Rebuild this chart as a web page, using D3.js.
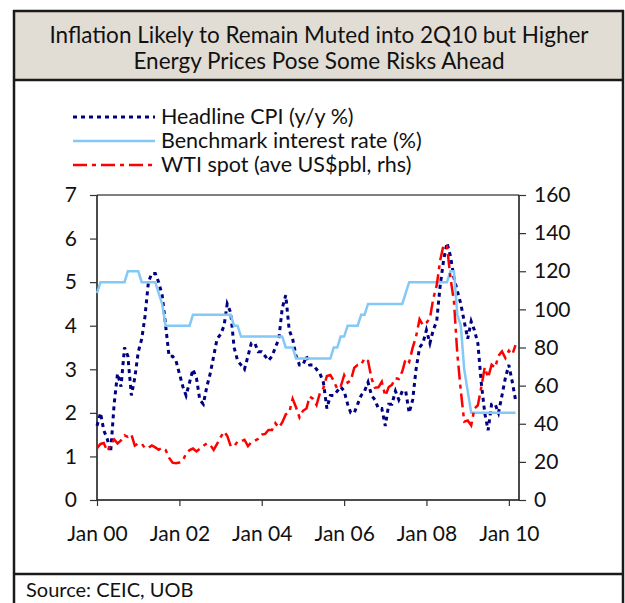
<!DOCTYPE html>
<html>
<head>
<meta charset="utf-8">
<script src="https://cdn.jsdelivr.net/npm/d3@7"></script>
<style>
  body { margin: 0; background: #fff; }
  svg { display: block; font-family: Lato, "Open Sans", sans-serif; }
</style>
</head>
<body>
<div id="chart"></div>
<script>
// monthly data, Jan 2000 - Mar 2010
var startYear = 2000;

var cpi = [
  1.7, 2.0, 1.6, 1.4, 1.1, 2.2, 2.9, 2.6, 3.5, 3.3, 2.4, 2.8,
  3.4, 3.7, 4.2, 5.0, 5.2, 5.2, 5.0, 4.7, 4.0, 3.3, 3.3, 3.2,
  2.9, 2.6, 2.4, 2.7, 3.0, 2.8, 2.3, 2.2, 2.6, 2.9, 3.3, 3.7,
  3.8, 4.0, 4.5, 4.3, 3.5, 3.2, 3.1, 3.0, 3.3, 3.6, 3.6, 3.4,
  3.4, 3.3, 3.2, 3.3, 3.5, 3.7, 4.4, 4.7, 3.9, 3.7, 3.3, 3.1,
  3.1, 3.3, 3.1, 3.1, 3.0, 2.9, 2.7, 2.1, 2.4, 2.4, 2.5, 2.6,
  2.5, 2.2, 2.0, 2.0, 2.2, 2.4, 2.5, 2.7, 2.4, 2.3, 2.1, 2.1,
  1.7, 2.2, 2.2, 2.5, 2.3, 2.5, 2.5, 2.0, 2.3, 3.0, 3.5, 3.6,
  3.9, 3.6, 3.9, 4.1, 4.9, 5.5, 5.9, 5.6, 5.1, 4.8, 4.5, 4.1,
  3.7, 4.1, 3.9, 3.6, 2.7, 2.0, 1.6, 2.2, 2.2, 2.0, 2.4, 2.8,
  3.1, 2.7, 2.3
];

var rate = [
  4.75, 5.0, 5.0, 5.0, 5.0, 5.0, 5.0, 5.0, 5.0, 5.25, 5.25, 5.25,
  5.25, 5.0, 5.0, 5.0, 5.0, 5.0, 4.75, 4.5, 4.0, 4.0, 4.0, 4.0,
  4.0, 4.0, 4.0, 4.0, 4.25, 4.25, 4.25, 4.25, 4.25, 4.25, 4.25, 4.25,
  4.25, 4.25, 4.25, 4.25, 4.0, 4.0, 3.75, 3.75, 3.75, 3.75, 3.75, 3.75,
  3.75, 3.75, 3.75, 3.75, 3.75, 3.75, 3.75, 3.5, 3.5, 3.5, 3.25, 3.25,
  3.25, 3.25, 3.25, 3.25, 3.25, 3.25, 3.25, 3.25, 3.25, 3.5, 3.5, 3.75,
  3.75, 4.0, 4.0, 4.0, 4.0, 4.25, 4.25, 4.5, 4.5, 4.5, 4.5, 4.5,
  4.5, 4.5, 4.5, 4.5, 4.5, 4.5, 4.75, 5.0, 5.0, 5.0, 5.0, 5.0,
  5.0, 5.0, 5.0, 5.0, 5.0, 5.0, 5.0, 5.25, 5.25, 4.25, 4.0, 3.0,
  2.5, 2.0, 2.0, 2.0, 2.0, 2.0, 2.0, 2.0, 2.0, 2.0, 2.0, 2.0,
  2.0, 2.0, 2.0
];

var wti = [
  27.2, 29.4, 29.9, 25.7, 28.8, 31.8, 29.7, 31.3, 33.9, 33.1, 34.4, 28.5,
  29.6, 29.6, 27.2, 27.4, 28.6, 27.6, 26.4, 27.4, 26.2, 22.2, 19.6, 19.3,
  19.7, 20.7, 24.4, 26.2, 27.0, 25.5, 26.9, 28.4, 29.7, 28.9, 26.3, 29.4,
  32.9, 35.9, 33.6, 28.3, 28.1, 30.7, 30.8, 31.6, 28.3, 30.3, 31.1, 32.1,
  34.3, 34.7, 36.7, 36.7, 40.3, 38.0, 40.7, 44.9, 45.9, 53.1, 48.5, 43.3,
  46.8, 48.0, 54.3, 53.0, 49.8, 56.3, 58.7, 65.0, 65.6, 62.4, 58.3, 59.4,
  65.5, 61.6, 62.7, 69.4, 70.8, 70.9, 74.4, 73.0, 63.8, 58.9, 59.1, 62.0,
  54.5, 59.3, 60.4, 63.9, 63.5, 67.5, 74.1, 72.4, 79.9, 85.8, 94.8, 91.7,
  93.0, 95.4, 105.5, 112.6, 125.4, 133.9, 133.4, 116.7, 104.1, 76.6, 57.3, 41.1,
  41.7, 39.1, 47.9, 49.7, 59.0, 69.6, 64.2, 71.0, 69.4, 75.7, 78.0, 74.5,
  78.3, 76.4, 81.2
];

var leftTicks = [0, 1, 2, 3, 4, 5, 6, 7];
var rightTicks = [0, 20, 40, 60, 80, 100, 120, 140, 160];
var xTickYears = [2000, 2002, 2004, 2006, 2008, 2010];

var titleLines = [
  "Inflation Likely to Remain Muted into 2Q10 but Higher",
  "Energy Prices Pose Some Risks Ahead"
];
var seriesNames = [
  "Headline CPI (y/y %)",
  "Benchmark interest rate (%)",
  "WTI spot (ave US$pbl, rhs)"
];

var W = 625, H = 603;
var plot = { left: 97, right: 519, top: 195, bottom: 500 };

var svg = d3.select("#chart")
  .append("svg")
  .attr("width", W)
  .attr("height", H);

// frame and title box
svg.append("rect")
  .attr("x", 14).attr("y", 11)
  .attr("width", 609).attr("height", 69)
  .attr("fill", "#e1ddd5");

var frame = svg.append("g")
  .attr("stroke", "#1a1a1a")
  .attr("stroke-width", 2.5);
frame.append("line").attr("x1", 14).attr("y1", 10).attr("x2", 14).attr("y2", H);
frame.append("line").attr("x1", 623).attr("y1", 10).attr("x2", 623).attr("y2", H);
frame.append("line").attr("x1", 13).attr("y1", 11).attr("x2", 624).attr("y2", 11);
frame.append("line").attr("x1", 13).attr("y1", 80).attr("x2", 624).attr("y2", 80);
frame.append("line").attr("x1", 13).attr("y1", 574).attr("x2", 624).attr("y2", 574);

svg.selectAll(".title")
  .data(titleLines)
  .join("text")
  .attr("class", "title")
  .attr("x", 319)
  .attr("y", (d, i) => 43 + i * 26)
  .attr("text-anchor", "middle")
  .attr("font-size", 22.5)
  .attr("fill", "#111")
  .text(d => d);

svg.append("text")
  .attr("x", 26)
  .attr("y", 597)
  .attr("font-size", 20)
  .attr("fill", "#111")
  .text("Source: CEIC, UOB");

// scales
var dates = cpi.map((d, i) => new Date(startYear, i, 1));

var x = d3.scaleTime()
  .domain([new Date(2000, 0, 1), new Date(2010, 3, 1)])
  .range([plot.left, plot.right]);

var yL = d3.scaleLinear()
  .domain([0, 7])
  .range([plot.bottom, plot.top]);

var yR = d3.scaleLinear()
  .domain([0, 160])
  .range([plot.bottom, plot.top]);

// top border of plot area
svg.append("line")
  .attr("x1", plot.left).attr("x2", plot.right)
  .attr("y1", plot.top).attr("y2", plot.top)
  .attr("stroke", "#555")
  .attr("stroke-width", 1.5);

// axes
var xAxis = svg.append("g")
  .attr("transform", "translate(0," + plot.bottom + ")")
  .call(d3.axisBottom(x)
    .tickValues(xTickYears.map(y => new Date(y, 0, 1)))
    .tickSize(6)
    .tickPadding(20)
    .tickFormat(d3.timeFormat("Jan %y")));

var leftAxis = svg.append("g")
  .attr("transform", "translate(" + plot.left + ",0)")
  .call(d3.axisLeft(yL).tickValues(leftTicks).tickSize(7).tickPadding(13)
    .tickFormat(d3.format("d")));

var rightAxis = svg.append("g")
  .attr("transform", "translate(" + plot.right + ",0)")
  .call(d3.axisRight(yR).tickValues(rightTicks).tickSize(7).tickPadding(8));

[xAxis, leftAxis, rightAxis].forEach(g => {
  g.select(".domain").attr("stroke", "#111").attr("stroke-width", 1.5);
  g.selectAll(".tick line").attr("stroke", "#333").attr("stroke-width", 1.2);
  g.selectAll(".tick text")
    .attr("font-size", 21)
    .attr("font-family", "Lato, sans-serif")
    .attr("fill", "#111");
});
xAxis.select(".domain").attr("d", "M" + plot.left + ",0H" + plot.right);
leftAxis.select(".domain").attr("d", "M0," + plot.bottom + "V" + plot.top);
rightAxis.select(".domain").attr("d", "M0," + plot.bottom + "V" + plot.top);

// lines
var cpiLine = d3.line()
  .x((d, i) => x(dates[i]))
  .y(d => yL(d));

var wtiLine = d3.line()
  .x((d, i) => x(dates[i]))
  .y(d => yR(d));

var styles = [
  { color: "#000080", width: 3, dash: "4,4" },
  { color: "#84c9f5", width: 2.5, dash: null },
  { color: "#ff0000", width: 2.5, dash: "14,5,4,5" }
];

svg.append("path")
  .datum(cpi)
  .attr("fill", "none")
  .attr("stroke", styles[0].color)
  .attr("stroke-width", styles[0].width)
  .attr("stroke-dasharray", styles[0].dash)
  .attr("d", cpiLine);

svg.append("path")
  .datum(rate)
  .attr("fill", "none")
  .attr("stroke", styles[1].color)
  .attr("stroke-width", styles[1].width)
  .attr("d", cpiLine);

svg.append("path")
  .datum(wti)
  .attr("fill", "none")
  .attr("stroke", styles[2].color)
  .attr("stroke-width", styles[2].width)
  .attr("stroke-dasharray", styles[2].dash)
  .attr("d", wtiLine);

// legend
var legend = svg.append("g");
seriesNames.forEach((name, i) => {
  var ly = 117 + i * 24;
  legend.append("line")
    .attr("x1", 73).attr("x2", 155)
    .attr("y1", ly).attr("y2", ly)
    .attr("stroke", styles[i].color)
    .attr("stroke-width", styles[i].width)
    .attr("stroke-dasharray", styles[i].dash);
  legend.append("text")
    .attr("x", 161)
    .attr("y", ly + 7)
    .attr("font-size", 21.5)
    .attr("fill", "#111")
    .text(name);
});
</script>
</body>
</html>
